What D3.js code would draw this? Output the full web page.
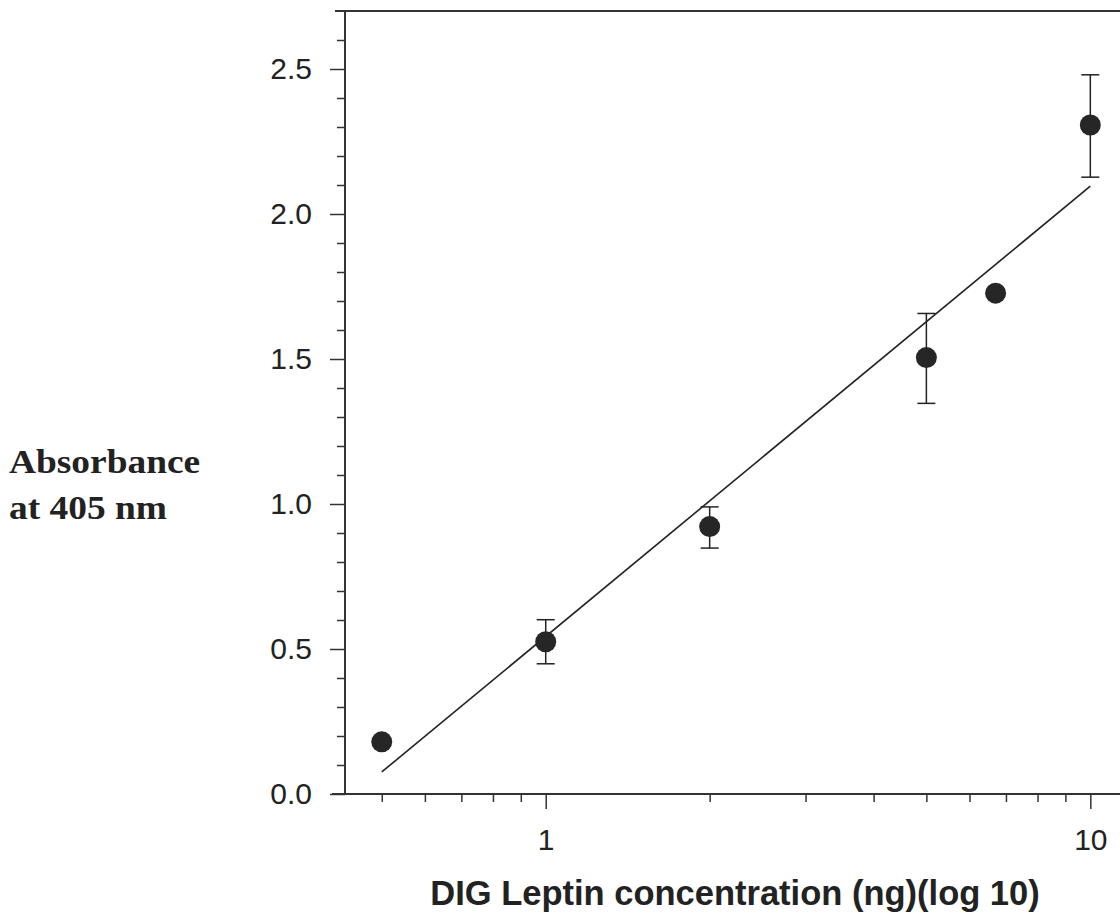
<!DOCTYPE html>
<html>
<head>
<meta charset="utf-8">
<script src="https://cdn.jsdelivr.net/npm/d3@7"></script>
<style>
  body { margin: 0; background: #fff; }
  svg { display: block; }
</style>
</head>
<body>
<div id="chart"></div>
<script>
// config
var WD = 1120, HT = 919
var margin = { left: 345, right: -80, top: 11, bottom: 125 }
var width = WD - margin.left - margin.right
var height = HT - margin.top - margin.bottom

// data
var concentration = [0.5, 1, 2, 5, 6.7, 10]
var absorbance = [0.18, 0.525, 0.922, 1.505, 1.727, 2.307]
var errLow = [null, 0.449, 0.848, 1.347, null, 2.127]
var errHigh = [null, 0.601, 0.990, 1.657, null, 2.48]
var fitX = [0.5, 10]
var fitY = [0.076, 2.096]
var yTicks = [0.0, 0.5, 1.0, 1.5, 2.0, 2.5]
var xTicks = [1, 10]

var x = d3.scaleLog().domain([0.428, 15.9]).range([0, width])
var y = d3.scaleLinear().domain([0, 2.7]).range([height, 0])

var root = d3.select("#chart").append("svg")
    .attr("width", WD)
    .attr("height", HT)
var svg = root.append("g")
    .attr("transform", "translate(" + margin.left + "," + margin.top + ")")

var ink = "#333"

// top border
svg.append("line")
  .attr("x1", -10).attr("x2", width)
  .attr("y1", 0).attr("y2", 0)
  .attr("stroke", ink).attr("stroke-width", 2)

// y axis, minor ticks every 0.1
var yMinor = d3.range(0, 27).map(function(i){ return i / 10 }).filter(function(v){ return Math.round(v * 10) % 5 != 0 })
svg.append("g")
  .call(d3.axisLeft(y).tickValues(yMinor).tickSize(8).tickFormat(""))
  .call(function(g){ g.select(".domain").remove() })
  .selectAll("line").attr("stroke", ink).attr("stroke-width", 1.5)

var yAxis = svg.append("g")
  .call(d3.axisLeft(y).tickValues(yTicks).tickSize(15).tickPadding(18).tickFormat(d3.format(".1f")))
yAxis.select(".domain").attr("d", "M0,0V" + height).attr("stroke", ink).attr("stroke-width", 2)
yAxis.selectAll("line").attr("stroke", ink).attr("stroke-width", 1.5)
yAxis.selectAll("text")
  .attr("font-family", "Liberation Sans, Arial, sans-serif")
  .attr("font-size", 30).attr("fill", "#222")

// x axis
var xMinor = [0.5, 0.6, 0.7, 0.8, 0.9, 2, 3, 4, 5, 6, 7, 8, 9]
svg.append("g")
  .attr("transform", "translate(0," + height + ")")
  .call(d3.axisBottom(x).tickValues(xMinor).tickSize(8).tickFormat(""))
  .call(function(g){ g.select(".domain").remove() })
  .selectAll("line").attr("stroke", ink).attr("stroke-width", 1.5)

var xAxis = svg.append("g")
  .attr("transform", "translate(0," + height + ")")
  .call(d3.axisBottom(x).tickValues(xTicks).tickSize(15).tickPadding(20).tickFormat(d3.format("d")))
xAxis.select(".domain").attr("d", "M-13,0H" + width).attr("stroke", ink).attr("stroke-width", 2)
xAxis.selectAll("line").attr("stroke", ink).attr("stroke-width", 1.5)
xAxis.selectAll("text")
  .attr("font-family", "Liberation Sans, Arial, sans-serif")
  .attr("font-size", 30).attr("fill", "#222")

// fit line
svg.append("line")
  .attr("x1", x(fitX[0])).attr("y1", y(fitY[0]))
  .attr("x2", x(fitX[1])).attr("y2", y(fitY[1]))
  .attr("stroke", "#222").attr("stroke-width", 1.6)

// error bars
var idx = d3.range(concentration.length).filter(function(i){ return errLow[i] != null })
var eb = svg.selectAll(".err").data(idx).enter().append("g").attr("class", "err")
eb.append("line")
  .attr("x1", function(i){ return x(concentration[i]) })
  .attr("x2", function(i){ return x(concentration[i]) })
  .attr("y1", function(i){ return y(errLow[i]) })
  .attr("y2", function(i){ return y(errHigh[i]) })
  .attr("stroke", "#222").attr("stroke-width", 1.5)
eb.selectAll(".cap")
  .data(function(i){ return [errLow[i], errHigh[i]].map(function(v){ return { c: concentration[i], v: v } }) })
  .enter().append("line")
  .attr("x1", function(d){ return x(d.c) - 9 })
  .attr("x2", function(d){ return x(d.c) + 9 })
  .attr("y1", function(d){ return y(d.v) })
  .attr("y2", function(d){ return y(d.v) })
  .attr("stroke", "#222").attr("stroke-width", 1.5)

// points
svg.selectAll(".pt")
  .data(d3.range(concentration.length))
  .enter().append("circle")
    .attr("class", "pt")
    .attr("cx", function(i){ return x(concentration[i]) })
    .attr("cy", function(i){ return y(absorbance[i]) })
    .attr("r", 10.5)
    .attr("fill", "#262626")

// titles
root.append("text")
  .attr("x", 735).attr("y", 905)
  .attr("text-anchor", "middle")
  .attr("font-family", "Liberation Sans, Arial, sans-serif")
  .attr("font-weight", "bold").attr("font-size", 34.5).attr("fill", "#222")
  .text("DIG Leptin concentration (ng)(log 10)")

var yt = root.append("text")
  .attr("transform", "translate(9,0) scale(1.1,1)")
  .attr("font-family", "Liberation Serif, Times New Roman, serif")
  .attr("font-weight", "bold").attr("font-size", 34).attr("fill", "#222")
yt.append("tspan").attr("x", 0).attr("y", 473).text("Absorbance")
yt.append("tspan").attr("x", 0).attr("y", 519).text("at 405 nm")
</script>
</body>
</html>
